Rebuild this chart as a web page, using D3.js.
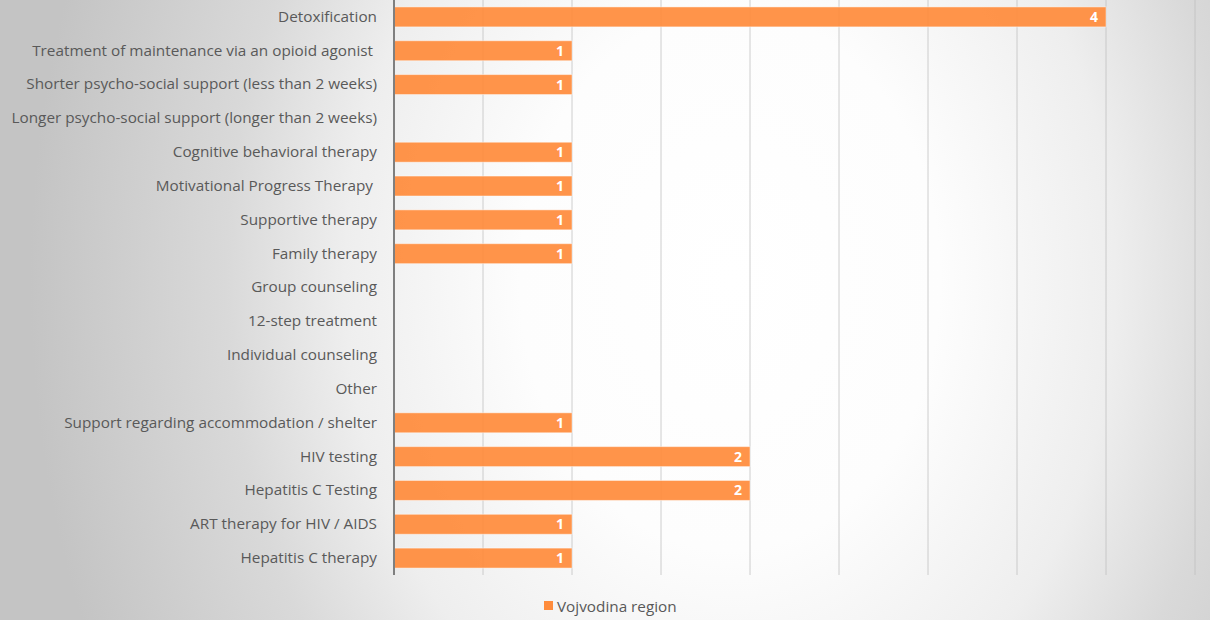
<!DOCTYPE html>
<html>
<head>
<meta charset="utf-8">
<script src="https://cdn.jsdelivr.net/npm/d3@7"></script>
<style>
  html, body { margin: 0; padding: 0; background: #fff; }
  svg { display: block; }
  text { font-family: "Open Sans", "Noto Sans", sans-serif; }
</style>
</head>
<body>
<svg id="chart" width="1210" height="620"></svg>
<script>
// Services offered in the region (number of programmes)
const categories = [
  "Detoxification",
  "Treatment of maintenance via an opioid agonist ",
  "Shorter psycho-social support (less than 2 weeks)",
  "Longer psycho-social support (longer than 2 weeks)",
  "Cognitive behavioral therapy",
  "Motivational Progress Therapy ",
  "Supportive therapy",
  "Family therapy",
  "Group counseling",
  "12-step treatment",
  "Individual counseling",
  "Other",
  "Support regarding accommodation / shelter",
  "HIV testing",
  "Hepatitis C Testing",
  "ART therapy for HIV / AIDS",
  "Hepatitis C therapy"
];
const values = [4, 1, 1, null, 1, 1, 1, 1, null, null, null, null, 1, 2, 2, 1, 1];
const seriesName = "Vojvodina region";
const gridTicks = [0.5, 1, 1.5, 2, 2.5, 3, 3.5, 4, 4.5];

const W = 1210, H = 620;
const svg = d3.select("#chart");

// background: soft radial shading, lightest right of centre
const defs = svg.append("defs");
const grad = defs.append("radialGradient")
  .attr("id", "bg")
  .attr("gradientUnits", "userSpaceOnUse")
  .attr("cx", 0).attr("cy", 0).attr("r", 1)
  .attr("gradientTransform", "translate(730,280) scale(700,900)");
[[0, "#ffffff"], [0.3, "#fdfdfd"], [0.55, "#eeeeee"], [0.72, "#d9d9d9"], [1, "#c4c4c4"]]
  .forEach(([o, c]) => grad.append("stop").attr("offset", o).attr("stop-color", c));
svg.append("rect").attr("width", W).attr("height", H).attr("fill", "url(#bg)");

const x = d3.scaleLinear().domain([0, 4.5]).range([394, 1195]);
const y = d3.scaleBand().domain(categories).range([0, 575]).paddingInner(0.41).paddingOuter(0.205);

// vertical gridlines
svg.append("g")
  .selectAll("line")
  .data(gridTicks)
  .join("line")
  .attr("x1", d => x(d)).attr("x2", d => x(d))
  .attr("y1", 0).attr("y2", 575)
  .attr("stroke", "#bdbdbd")
  .attr("stroke-opacity", 0.75)
  .attr("stroke-width", 1);

const rows = categories.map((c, i) => ({ c, v: values[i] }));

// bars
svg.append("g")
  .selectAll("rect")
  .data(rows.filter(d => d.v != null))
  .join("rect")
  .attr("x", x(0))
  .attr("y", d => y(d.c))
  .attr("width", d => x(d.v) - x(0))
  .attr("height", y.bandwidth())
  .attr("fill", "#ff8c3c")
  .attr("fill-opacity", 0.93)
  .attr("stroke", "#ffffff")
  .attr("stroke-opacity", 0.45)
  .attr("stroke-width", 1);

// value labels
svg.append("g")
  .selectAll("text")
  .data(rows.filter(d => d.v != null))
  .join("text")
  .attr("x", d => x(d.v) - 8)
  .attr("y", d => y(d.c) + y.bandwidth() / 2)
  .attr("dy", "0.36em")
  .attr("text-anchor", "end")
  .attr("fill", "#ffffff")
  .attr("font-size", 14)
  .attr("font-weight", "bold")
  .text(d => d.v);

// category axis
const axis = svg.append("g").attr("transform", `translate(${x(0)},0)`)
  .call(d3.axisLeft(y).tickSize(0).tickPadding(17));
axis.select(".domain").attr("stroke", "#7f7f7f").attr("stroke-width", 2)
  .attr("d", "M0,0V575");
axis.selectAll("text")
  .attr("font-size", 15.3)
  .attr("fill", "#595959")
  .style("white-space", "pre")
  .attr("font-family", "'Open Sans', sans-serif");

// legend
const lg = svg.append("g").attr("transform", "translate(544,601)");
lg.append("rect").attr("width", 9).attr("height", 9).attr("fill", "#ff8c3c");
lg.append("text").attr("x", 13).attr("y", 5).attr("dy", "0.36em")
  .attr("font-size", 15.3).attr("fill", "#595959").text(seriesName);
</script>
</body>
</html>
